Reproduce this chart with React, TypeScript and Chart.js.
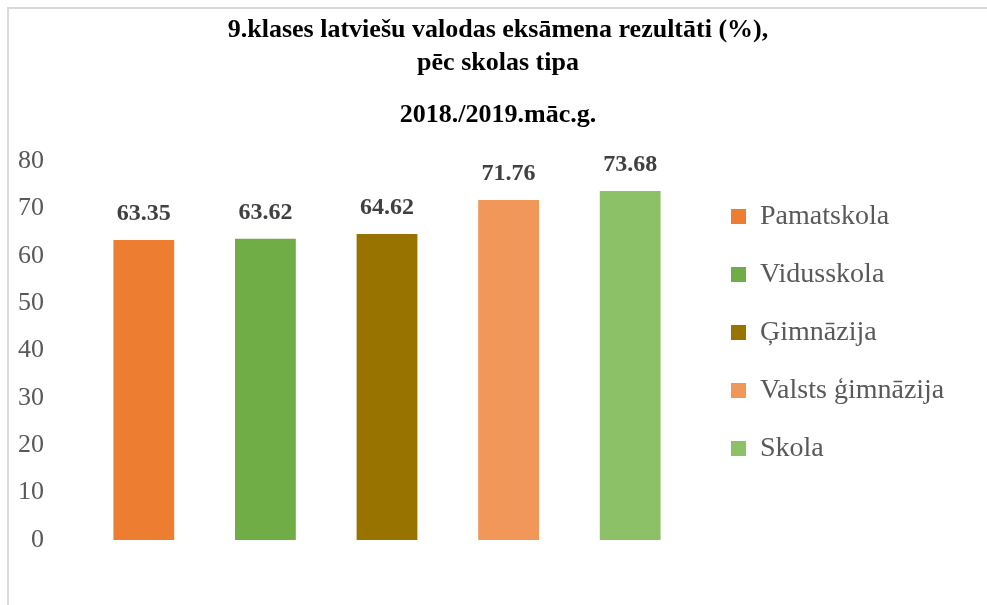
import React, { useEffect, useRef } from "react";
import { Chart, registerables } from "chart.js";

Chart.register(...registerables);

const titleLines = ["9.klases latviešu valodas eksāmena rezultāti (%),", "pēc skolas tipa"];
const subtitleText = "2018./2019.māc.g.";
const seriesNames = ["Pamatskola", "Vidusskola", "Ģimnāzija", "Valsts ģimnāzija", "Skola"];
const seriesValues = [63.35, 63.62, 64.62, 71.76, 73.68];
const seriesColors = ["#ED7D31", "#70AD47", "#997300", "#F1975A", "#8CC168"];
const yMin = 0;
const yMax = 80;
const yStep = 10;

const SERIF = "'Liberation Serif', 'Times New Roman', serif";

const valueLabels = {
  id: "valueLabels",
  afterDatasetsDraw(chart: any) {
    const ctx = chart.ctx;
    ctx.save();
    ctx.font = `bold 24px ${SERIF}`;
    ctx.fillStyle = "#404040";
    ctx.textAlign = "center";
    ctx.textBaseline = "middle";
    chart.data.datasets.forEach((ds: any, di: number) => {
      const meta = chart.getDatasetMeta(di);
      meta.data.forEach((bar: any, i: number) => {
        const v = ds.data[i];
        if (v === null || v === undefined) return;
        ctx.fillText(v.toFixed(2), bar.x, bar.y - 26);
      });
    });
    ctx.restore();
  },
};

// give the right-hand legend a fixed box width
const legendWidth = {
  id: "legendWidth",
  beforeUpdate(chart: any) {
    const lg = chart.legend;
    if (lg && !lg.__fixedWidth) {
      const orig = lg.fit.bind(lg);
      lg.fit = function () {
        orig();
        this.width = 286;
      };
      lg.__fixedWidth = true;
    }
  },
};

export default function App() {
  const ref = useRef<HTMLCanvasElement | null>(null);
  useEffect(() => {
    document.body.style.margin = "0";
    const canvas = ref.current!;
    const datasets = seriesNames.map((name, i) => ({
      label: name,
      data: seriesValues.map((v, j) => (j === i ? v : null)),
      backgroundColor: seriesColors[i],
      borderWidth: 0,
      categoryPercentage: 0.5,
      barPercentage: 1,
    }));
    const chart = new Chart(canvas, {
      type: "bar",
      data: { labels: seriesNames, datasets },
      plugins: [valueLabels, legendWidth],
      options: {
        animation: false,
        responsive: false,
        maintainAspectRatio: false,
        skipNull: true,
        layout: { padding: { left: 0, right: 0, top: 0, bottom: 65 } },
        scales: {
          x: { display: false },
          y: {
            min: yMin,
            max: yMax,
            grid: { display: false, drawTicks: false },
            border: { display: false },
            ticks: {
              stepSize: yStep,
              padding: 39,
              color: "#595959",
              font: { family: SERIF, size: 26 },
            },
            afterFit: (s: any) => {
              s.width = 74;
            },
          },
          yr: {
            position: "right",
            display: true,
            grid: { display: false, drawTicks: false },
            border: { display: false },
            ticks: { display: false },
            afterFit: (s: any) => {
              s.width = 10;
            },
          },
        },
        plugins: {
          title: {
            display: true,
            text: titleLines,
            color: "#000000",
            font: { family: SERIF, size: 26, weight: "bold", lineHeight: 1.27 },
            padding: { top: 5, bottom: 0 },
          },
          subtitle: {
            display: true,
            text: subtitleText,
            color: "#000000",
            font: { family: SERIF, size: 26, weight: "bold", lineHeight: 1.27 },
            padding: { top: 19, bottom: 29 },
          },
          legend: {
            display: true,
            position: "right",
            align: "center",
            maxWidth: 400,
            title: {
              display: true,
              text: " ",
              font: { size: 1, lineHeight: 1 },
              padding: { top: 115, bottom: 0 },
            },
            labels: {
              boxWidth: 15,
              boxHeight: 15,
              padding: 30,
              color: "#595959",
              font: { family: SERIF, size: 28 },
            },
          },
          tooltip: { enabled: false },
        },
      } as any,
    });
    return () => chart.destroy();
  }, []);
  return (
    <div
      style={{
        position: "absolute",
        left: 7,
        top: 7,
        width: 980,
        height: 598,
        borderTop: "2px solid #d9d9d9",
        borderLeft: "2px solid #d9d9d9",
        background: "#fff",
      }}
    >
      <canvas ref={ref} width={978} height={596} style={{ display: "block" }} />
    </div>
  );
}
